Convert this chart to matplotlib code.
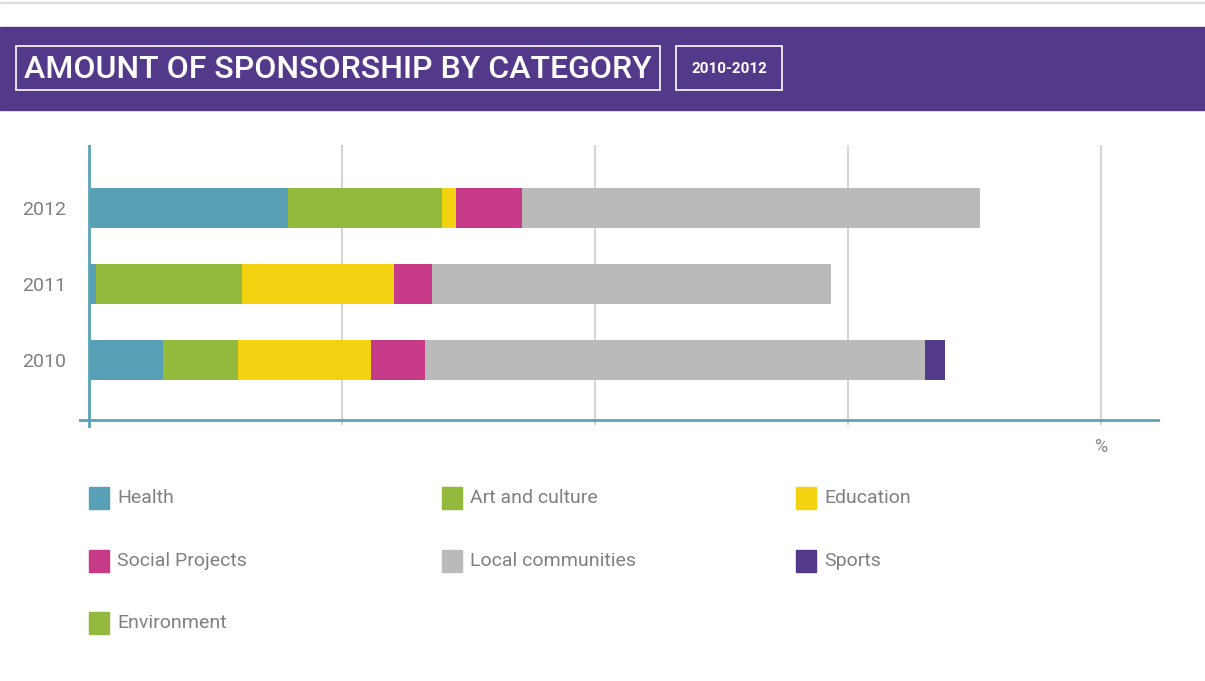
import matplotlib.pyplot as plt
from matplotlib.patches import Rectangle

# data (percent of total sponsorship)
years = ["2010", "2011", "2012"]
categories = ["Health", "Art and culture", "Education", "Social Projects",
              "Local communities", "Sports", "Environment"]
health = [7.3, 0.7, 19.7]
art = [7.4, 14.4, 15.2]
education = [13.2, 15.0, 1.4]
social = [5.3, 3.8, 6.5]
local = [49.4, 39.4, 45.2]
sports = [2.0, 0.0, 0.0]
environment = [0.0, 0.0, 0.0]
series = [health, art, education, social, local, sports, environment]
colors = ["#58A0B5", "#93B93D", "#F3D212", "#C73A88", "#BABABA", "#52398A", "#93B93D"]

W, H = 1205, 681
fig = plt.figure(figsize=(W / 100, H / 100), dpi=100)
label_font = ["Roboto", "DejaVu Sans"]

def fx(px):
    return px / W

def fy(py):
    return 1 - py / H

# header band
fig.patches.append(Rectangle((0, fy(3)), 1, 0.002, transform=fig.transFigure, color="#dddddd"))
fig.patches.append(Rectangle((0, fy(110)), 1, (110 - 27) / H, transform=fig.transFigure,
                             color="#52398A"))
fig.patches.append(Rectangle((fx(16), fy(90)), (660 - 16) / W, 44 / H, transform=fig.transFigure,
                             fill=False, ec="white", lw=1.2))
fig.patches.append(Rectangle((fx(676), fy(90)), (782 - 676) / W, 44 / H, transform=fig.transFigure,
                             fill=False, ec="white", lw=1.2))
fig.text(fx(24), fy(69), "AMOUNT OF SPONSORSHIP BY CATEGORY", color="white", fontsize=23,
         family=label_font, fontweight="medium", va="center", ha="left")
fig.text(fx(729), fy(69), "2010-2012", color="white", fontsize=11, fontweight="bold",
         family=label_font, va="center", ha="center")

# chart area: x px = 89 + v * 10.12, rows 76 px apart
left_px, right_px, top_px, bot_px = 79, 1160, 145, 428
ax = fig.add_axes([fx(left_px), fy(bot_px), (right_px - left_px) / W, (bot_px - top_px) / H])
scale = 10.12
ax.set_xlim((left_px - 89) / scale, (right_px - 89) / scale)
ax.set_ylim(-(bot_px - 360) / 76, 2 + (208 - top_px) / 76)
for s in ax.spines.values():
    s.set_visible(False)

axis_y = -(420 - 360) / 76
for g in [25, 50, 75, 100]:
    ax.vlines(g, -(425 - 360) / 76, ax.get_ylim()[1], color="#d0d0d0", lw=1.3, zorder=0)

ypos = list(range(len(years)))
left = [0.0] * len(years)
for vals, c in zip(series, colors):
    ax.barh(ypos, vals, left=left, height=40 / 76, color=c, zorder=2)
    left = [a + b for a, b in zip(left, vals)]

ax.axhline(axis_y, color="#5AA3B5", lw=2, zorder=3)
ax.axvline(0, color="#5AA3B5", lw=2, zorder=3)

ax.set_xticks([])
ax.set_yticks(ypos)
ax.set_yticklabels(years, color="#808080", fontsize=14, family=label_font)
ax.tick_params(axis="y", length=0, pad=9)
ax.text(100, -(447 - 360) / 76, "%", color="#888888", fontsize=13, family=label_font,
        ha="center", va="center")

# legend
col_x = [89, 442, 796]
row_y = [498, 561, 623]
for i, (name, c) in enumerate(zip(categories, colors)):
    x0 = col_x[i % 3]
    y0 = row_y[i // 3]
    fig.patches.append(Rectangle((fx(x0), fy(y0 + 11)), 20 / W, 22 / H,
                                 transform=fig.transFigure, color=c))
    fig.text(fx(x0 + 28), fy(y0), name, color="#808080", fontsize=14, family=label_font,
             va="center", ha="left")

fig.savefig("out.png", dpi=100)
